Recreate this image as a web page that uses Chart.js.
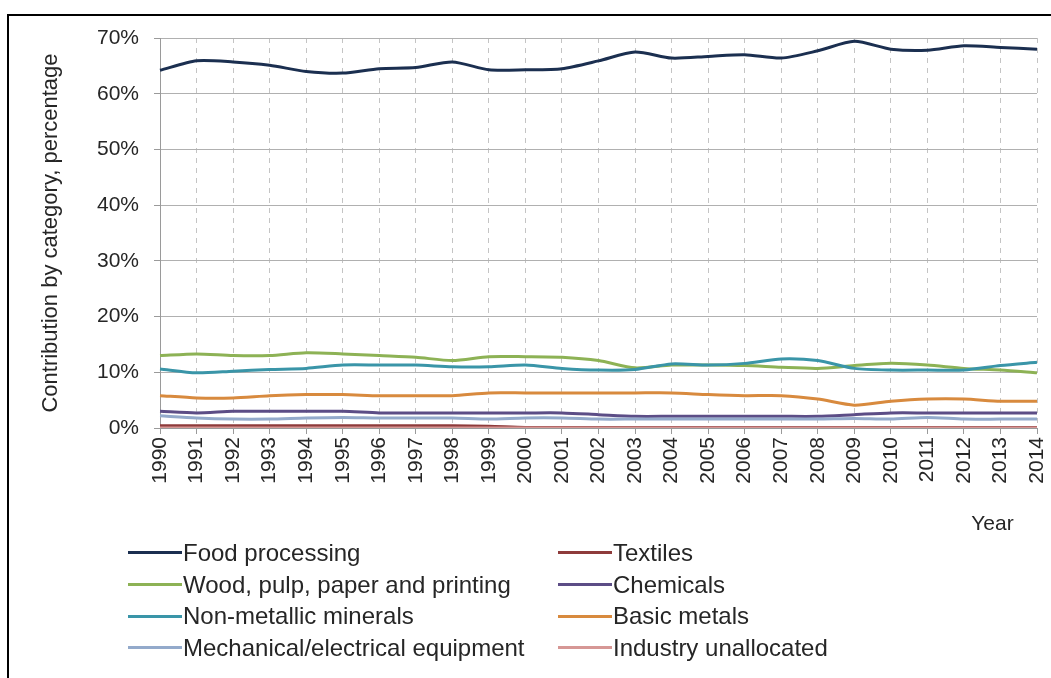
<!DOCTYPE html>
<html lang="en">

<head>
    <meta charset="UTF-8">
    <meta name="viewport" content="width=device-width, initial-scale=1.0">
    <title>Contribution by category</title>
    <script src="https://cdn.jsdelivr.net/npm/chart.js"></script>
    <style>
        body { margin: 0; background: #fff; font-family: "Liberation Sans", Arial, sans-serif; }
        #frame { position: absolute; left: 7px; top: 14px; width: 1100px; height: 700px;
                 border-top: 2px solid #000; border-left: 2px solid #000; }
        #wrap { position: absolute; left: 0; top: 0; width: 1051px; height: 540px; }
        #legend { position: absolute; left: 128px; top: 537px; display: grid;
                  grid-template-columns: 430px 430px; color: #262626; font-size: 24px; }
        .item { display: flex; align-items: center; height: 31.7px; white-space: nowrap; }
        .swatch { width: 54px; height: 3px; margin-right: 1px; }
    </style>
</head>

<body>
    <div id="frame"></div>
    <div id="wrap"><canvas id="lineChart"></canvas></div>
    <div id="legend"></div>

    <script>
        // data (percent)
        const years = ['1990', '1991', '1992', '1993', '1994', '1995', '1996', '1997', '1998', '1999', '2000', '2001', '2002',
            '2003', '2004', '2005', '2006', '2007', '2008', '2009', '2010', '2011', '2012', '2013', '2014'];
        const foodProcessing = [64.2, 65.9, 65.7, 65.1, 64.0, 63.7, 64.5, 64.7, 65.7, 64.3, 64.3, 64.5, 65.9,
            67.5, 66.4, 66.7, 67.0, 66.4, 67.7, 69.4, 68.0, 67.8, 68.6, 68.3, 68.0];
        const textiles = [0.4, 0.4, 0.4, 0.4, 0.4, 0.4, 0.4, 0.4, 0.4, 0.3, 0.1, 0.1, 0.1,
            0.1, 0.1, 0.1, 0.1, 0.1, 0.1, 0.1, 0.1, 0.1, 0.1, 0.1, 0.1];
        const woodPaper = [13.0, 13.3, 13.0, 13.0, 13.5, 13.3, 13.0, 12.7, 12.1, 12.8, 12.8, 12.7, 12.1,
            10.8, 11.3, 11.3, 11.2, 10.9, 10.7, 11.2, 11.6, 11.3, 10.7, 10.4, 9.9];
        const chemicals = [3.0, 2.7, 3.0, 3.0, 3.0, 3.0, 2.7, 2.7, 2.7, 2.7, 2.7, 2.7, 2.4,
            2.1, 2.1, 2.1, 2.1, 2.1, 2.1, 2.4, 2.7, 2.7, 2.7, 2.7, 2.7];
        const nonMetallic = [10.6, 9.9, 10.2, 10.5, 10.7, 11.3, 11.3, 11.3, 11.0, 11.0, 11.3, 10.7, 10.4,
            10.5, 11.5, 11.3, 11.6, 12.4, 12.1, 10.7, 10.4, 10.4, 10.4, 11.2, 11.8];
        const basicMetals = [5.8, 5.4, 5.4, 5.8, 6.0, 6.0, 5.8, 5.8, 5.8, 6.3, 6.3, 6.3, 6.3,
            6.3, 6.3, 6.0, 5.8, 5.8, 5.2, 4.1, 4.8, 5.2, 5.2, 4.8, 4.8];
        const mechanical = [2.2, 1.8, 1.6, 1.6, 1.8, 1.9, 1.8, 1.8, 1.8, 1.6, 1.8, 1.8, 1.6,
            1.6, 1.6, 1.6, 1.6, 1.6, 1.6, 1.7, 1.6, 1.9, 1.6, 1.6, 1.6];
        const unallocated = [0, 0, 0, 0, 0, 0, 0, 0, 0, 0, 0, 0, 0,
            0, 0, 0, 0, 0, 0, 0, 0, 0, 0, 0, 0];

        const seriesNames = ['Food processing', 'Textiles', 'Wood, pulp, paper and printing', 'Chemicals',
            'Non-metallic minerals', 'Basic metals', 'Mechanical/electrical equipment', 'Industry unallocated'];
        const seriesData = [foodProcessing, textiles, woodPaper, chemicals, nonMetallic, basicMetals, mechanical, unallocated];
        const seriesColors = ['#1b2f50', '#8e3b3b', '#8db255', '#5c4d86', '#3a95a8', '#d88a3e', '#93aacb', '#d69795'];

        const font = '"Liberation Sans", Arial, sans-serif';
        const textColor = '#262626';

        const ctx = document.getElementById('lineChart').getContext('2d');
        const chart = new Chart(ctx, {
            type: 'line',
            data: {
                labels: years,
                datasets: seriesNames.map((name, i) => ({
                    label: name,
                    data: seriesData[i],
                    borderColor: seriesColors[i],
                    backgroundColor: seriesColors[i],
                    borderWidth: 3,
                    pointRadius: 0,
                    tension: 0.25,
                    order: 8 - i
                }))
            },
            options: {
                responsive: true,
                maintainAspectRatio: false,
                animation: false,
                layout: { padding: { top: 38, right: 14, left: 0, bottom: 0 } },
                plugins: {
                    legend: { display: false },
                    tooltip: { enabled: false }
                },
                scales: {
                    x: {
                        offset: false,
                        afterFit: scale => {
                            scale.height = 112;
                            scale.paddingRight = 0;
                            scale.paddingLeft = 0;
                        },
                        grid: { color: '#c4c4c4', tickLength: 6, tickColor: '#9a9a9a', offset: false },
                        border: { color: '#9a9a9a', dash: [5, 5] },
                        ticks: {
                            autoSkip: false, minRotation: 90, maxRotation: 90, padding: 3,
                            color: textColor, font: { family: font, size: 21 }
                        },
                        title: {
                            display: true, text: 'Year    ', align: 'end',
                            color: textColor, font: { family: font, size: 21 },
                            padding: { top: 0, bottom: 3 }
                        }
                    },
                    y: {
                        min: 0, max: 70,
                        afterFit: scale => { scale.width = 160; },
                        grid: { color: '#b0b0b0', tickLength: 6, tickColor: '#9a9a9a' },
                        border: { color: '#9a9a9a' },
                        ticks: {
                            stepSize: 10, padding: 15,
                            color: textColor, font: { family: font, size: 21 },
                            callback: v => v + '%'
                        },
                        title: {
                            display: true, text: 'Contribution by category, percentage',
                            color: textColor, font: { family: font, size: 22 },
                            padding: { top: 38, bottom: 0 }
                        }
                    }
                }
            }
        });

        // two-column legend built from the chart datasets
        const legend = document.getElementById('legend');
        chart.data.datasets.forEach(ds => {
            const item = document.createElement('div');
            item.className = 'item';
            const sw = document.createElement('span');
            sw.className = 'swatch';
            sw.style.background = ds.borderColor;
            const label = document.createElement('span');
            label.textContent = ds.label;
            item.appendChild(sw);
            item.appendChild(label);
            legend.appendChild(item);
        });
    </script>
</body>

</html>
